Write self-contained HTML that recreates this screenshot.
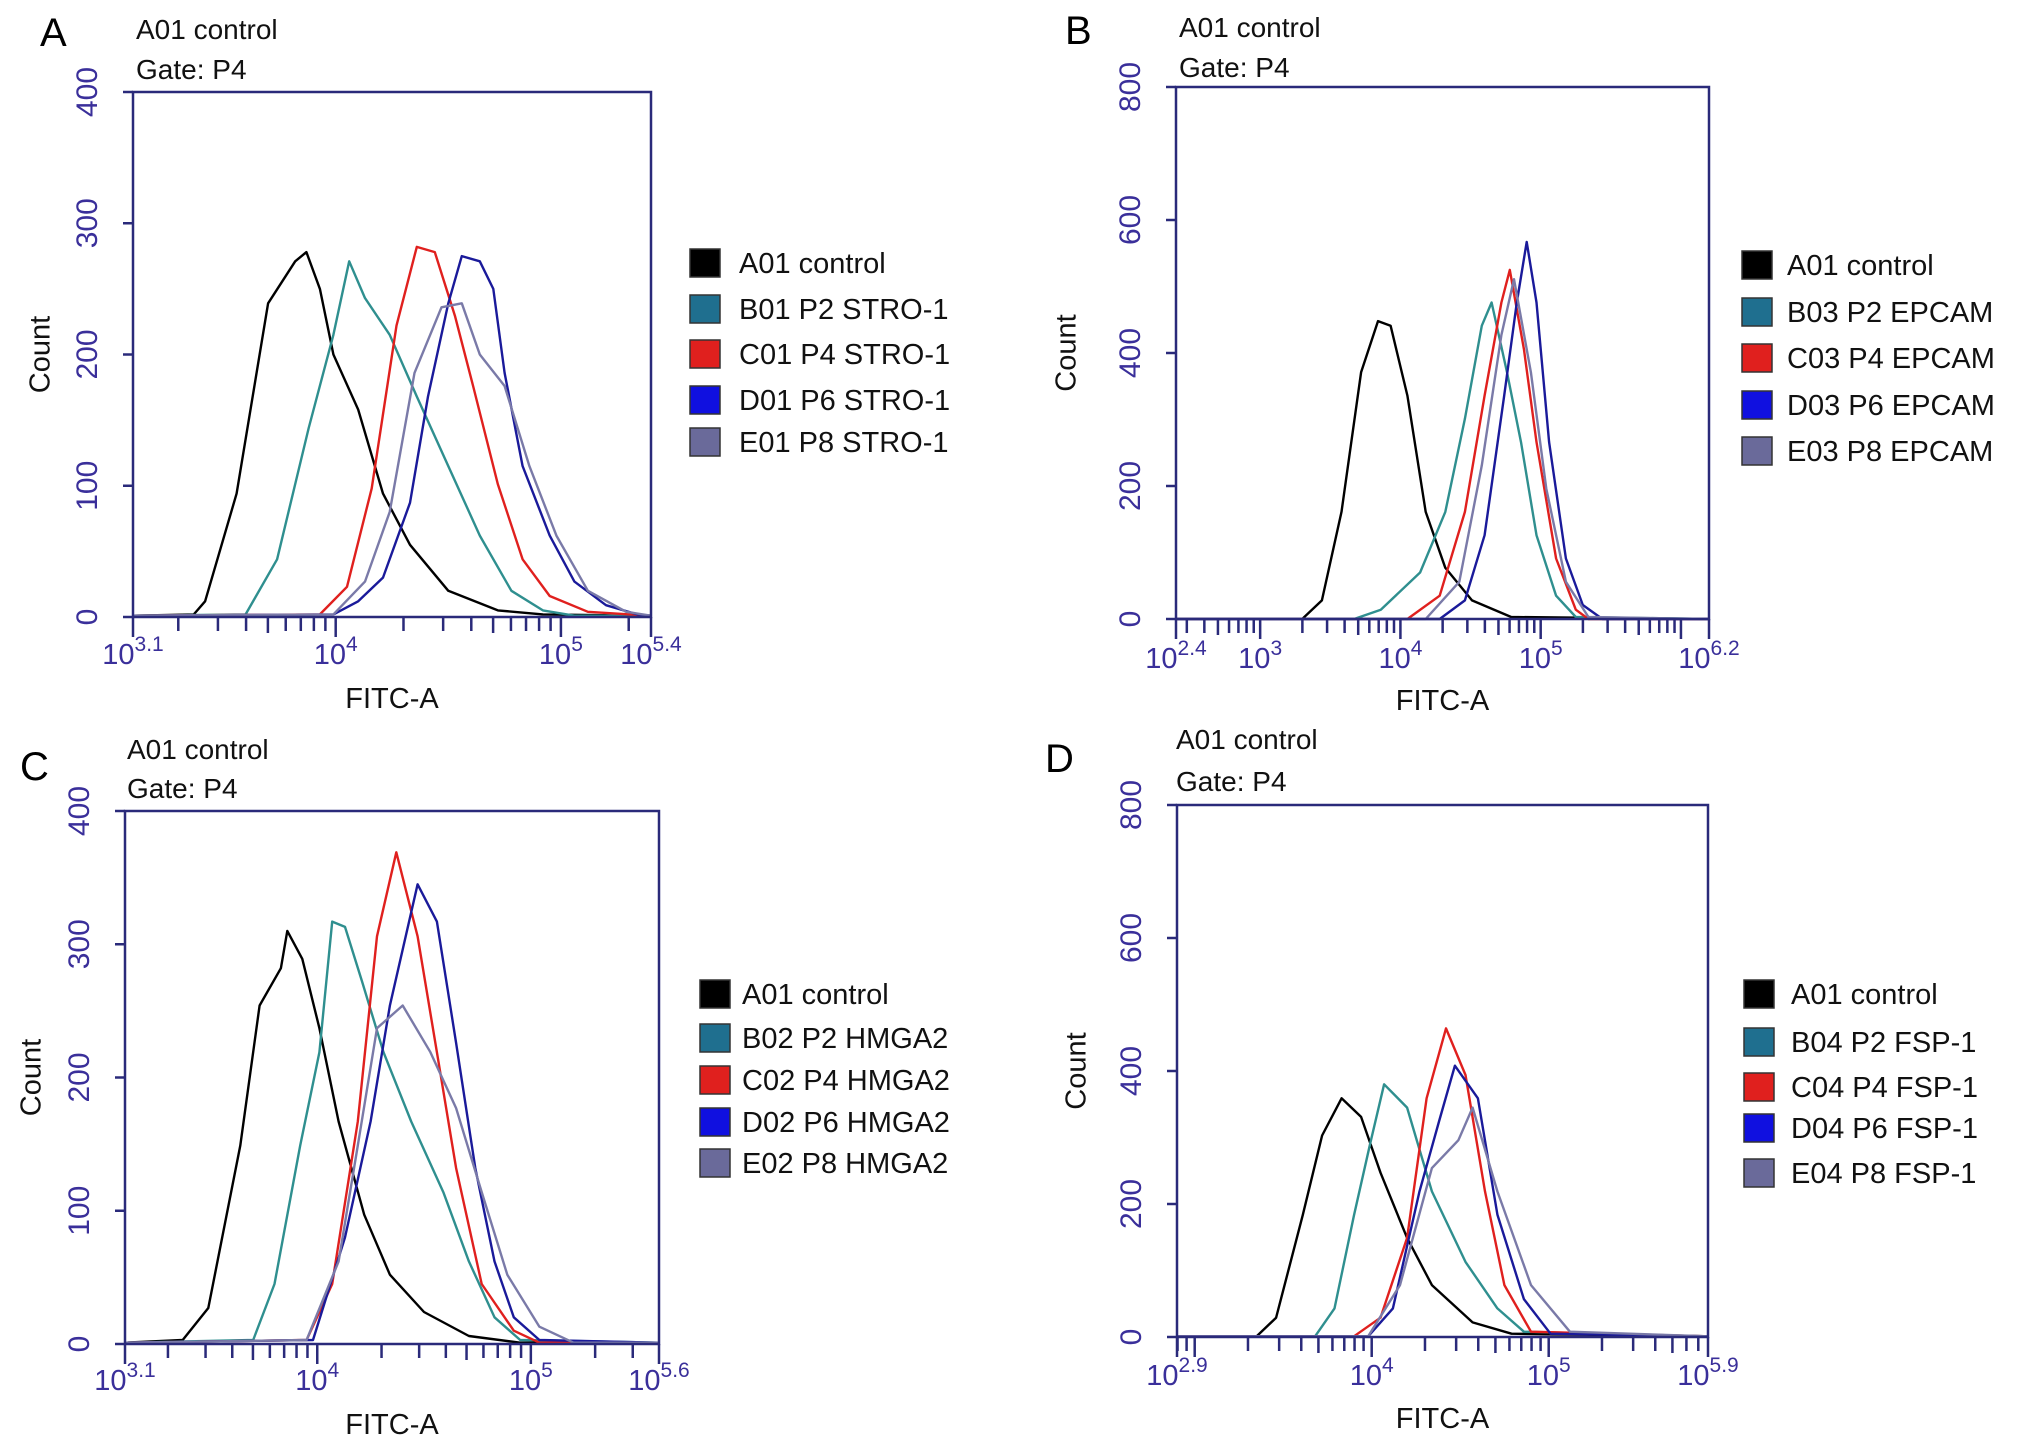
<!DOCTYPE html>
<html><head><meta charset="utf-8"><style>
html,body{margin:0;padding:0;background:#fff}
svg{display:block}
text{font-family:"Liberation Sans",sans-serif}
</style></head><body>
<svg id="fig" width="2032" height="1452" viewBox="0 0 2032 1452" xmlns="http://www.w3.org/2000/svg"></svg>
<script>
// ---- Data: [log10(FITC-A), count] pairs ----
const seriesNames = ["control","p2","p4","p6","p8"];
const aLabels = ["A01 control","B01 P2 STRO-1","C01 P4 STRO-1","D01 P6 STRO-1","E01 P8 STRO-1"];
const aControl = [[3.1,1],[3.37,2],[3.42,12],[3.56,94],[3.70,239],[3.82,271],[3.87,278],[3.93,250],[3.99,200],[4.10,158],[4.21,94],[4.33,55],[4.50,20],[4.72,5],[4.92,2],[5.4,1]];
const aP2 = [[3.1,1],[3.60,2],[3.74,44],[3.88,144],[3.99,215],[4.06,271],[4.13,243],[4.24,215],[4.36,168],[4.50,115],[4.64,62],[4.78,20],[4.92,5],[5.06,1],[5.4,1]];
const aP4 = [[3.1,1],[3.93,2],[4.05,23],[4.16,98],[4.27,222],[4.36,282],[4.44,278],[4.53,229],[4.61,176],[4.72,101],[4.83,44],[4.95,16],[5.12,4],[5.4,1]];
const aP6 = [[3.1,1],[3.99,2],[4.10,12],[4.21,30],[4.33,87],[4.41,168],[4.50,239],[4.56,275],[4.64,271],[4.70,250],[4.75,186],[4.83,115],[4.95,62],[5.06,27],[5.20,9],[5.34,2],[5.4,1]];
const aP8 = [[3.1,1],[3.99,2],[4.13,27],[4.24,80],[4.35,186],[4.47,236],[4.56,239],[4.64,200],[4.75,176],[4.86,115],[4.98,62],[5.12,20],[5.29,4],[5.4,1]];

const bLabels = ["A01 control","B03 P2 EPCAM","C03 P4 EPCAM","D03 P6 EPCAM","E03 P8 EPCAM"];
const bControl = [[2.4,0],[3.30,0],[3.44,28],[3.58,161],[3.72,371],[3.84,448],[3.93,441],[4.05,336],[4.18,161],[4.32,77],[4.51,28],[4.79,3],[6.2,0]];
const bP2 = [[2.4,0],[3.67,0],[3.86,14],[4.14,70],[4.32,161],[4.46,301],[4.58,441],[4.65,476],[4.76,371],[4.86,266],[4.97,126],[5.11,35],[5.25,3],[6.2,0]];
const bP4 = [[2.4,0],[4.05,0],[4.28,35],[4.46,161],[4.60,336],[4.72,476],[4.78,525],[4.88,406],[4.97,266],[5.11,91],[5.25,14],[5.34,0],[6.2,0]];
const bP6 = [[2.4,0],[4.28,0],[4.46,28],[4.60,126],[4.74,336],[4.83,476],[4.90,567],[4.97,476],[5.06,266],[5.18,91],[5.30,21],[5.44,0],[6.2,0]];
const bP8 = [[2.4,0],[4.18,0],[4.42,56],[4.58,231],[4.72,427],[4.81,511],[4.93,371],[5.04,196],[5.18,56],[5.34,3],[6.2,0]];

const cLabels = ["A01 control","B02 P2 HMGA2","C02 P4 HMGA2","D02 P6 HMGA2","E02 P8 HMGA2"];
const cControl = [[3.1,1],[3.37,3],[3.49,27],[3.64,149],[3.73,254],[3.83,282],[3.86,310],[3.93,289],[4.01,237],[4.10,167],[4.22,97],[4.34,52],[4.50,24],[4.71,6],[4.95,1],[5.6,1]];
const cP2 = [[3.1,1],[3.70,3],[3.80,45],[3.92,149],[4.01,219],[4.07,317],[4.13,313],[4.21,272],[4.31,219],[4.44,167],[4.59,114],[4.71,62],[4.83,20],[4.95,3],[5.6,1]];
const cP4 = [[3.1,1],[3.95,3],[4.07,45],[4.19,167],[4.28,306],[4.37,369],[4.47,306],[4.56,219],[4.65,132],[4.77,45],[4.92,10],[5.04,1],[5.6,1]];
const cP6 = [[3.1,1],[3.98,3],[4.13,80],[4.25,167],[4.34,254],[4.47,345],[4.56,317],[4.65,226],[4.74,132],[4.83,62],[4.92,20],[5.04,3],[5.6,1]];
const cP8 = [[3.1,1],[3.95,3],[4.10,62],[4.19,149],[4.28,237],[4.40,254],[4.53,219],[4.65,177],[4.77,114],[4.89,52],[5.04,13],[5.20,1],[5.6,1]];

const dLabels = ["A01 control","B04 P2 FSP-1","C04 P4 FSP-1","D04 P6 FSP-1","E04 P8 FSP-1"];
const dControl = [[2.9,1],[3.35,1],[3.46,29],[3.61,183],[3.72,303],[3.83,359],[3.94,331],[4.05,247],[4.20,149],[4.34,78],[4.57,22],[4.79,5],[5.9,1]];
const dP2 = [[2.9,1],[3.68,1],[3.79,43],[3.90,183],[3.99,289],[4.07,380],[4.20,345],[4.34,219],[4.53,113],[4.71,43],[4.86,8],[5.9,1]];
const dP4 = [[2.9,1],[3.90,1],[4.05,29],[4.20,149],[4.31,359],[4.42,464],[4.53,394],[4.64,219],[4.75,78],[4.90,8],[5.9,1]];
const dP6 = [[2.9,1],[3.98,1],[4.12,43],[4.27,219],[4.38,324],[4.47,408],[4.60,359],[4.71,184],[4.86,57],[5.01,5],[5.9,1]];
const dP8 = [[2.9,1],[3.98,1],[4.16,78],[4.34,254],[4.49,296],[4.57,345],[4.71,219],[4.90,78],[5.12,8],[5.9,1]];

const aYTicks=[0,100,200,300,400], bYTicks=[0,200,400,600,800];
const aXLabels=[[3.1,"3.1"],[4,"4"],[5,"5"],[5.4,"5.4"]];
const bXLabels=[[2.4,"2.4"],[3,"3"],[4,"4"],[5,"5"],[6.2,"6.2"]];
const cXLabels=[[3.1,"3.1"],[4,"4"],[5,"5"],[5.6,"5.6"]];
const dXLabels=[[2.9,"2.9"],[4,"4"],[5,"5"],[5.9,"5.9"]];

const lineColors=["#000000","#2f8f8f","#e0201e","#1a1a9a","#7a7aa8"];
const swatchColors=["#000000","#1f6f8f","#e0201e","#1010e0","#6a6a9a"];

const NS="http://www.w3.org/2000/svg";
const svg=document.getElementById("fig");
function mk(tag,attrs,parent){const e=document.createElementNS(NS,tag);for(const k in attrs)e.setAttribute(k,attrs[k]);(parent||svg).appendChild(e);return e;}

const panels=[
 {id:"a",letter:"A",box:[133,92,651,617],xr:[3.1,5.4],ymax:400,yt:aYTicks,xl:aXLabels,series:[aControl,aP2,aP4,aP6,aP8],labels:aLabels,
  letterPos:[40,46],hdr:[136,39,79],leg:[690,739,[263,309,354,400,442]],countX:42,xlabY:664,fitcY:708},
 {id:"b",letter:"B",box:[1176,87,1709,619],xr:[2.4,6.2],ymax:800,yt:bYTicks,xl:bXLabels,series:[bControl,bP2,bP4,bP6,bP8],labels:bLabels,
  letterPos:[1065,44],hdr:[1179,37,77],leg:[1742,1787,[265,312,358,405,451]],countX:1068,xlabY:668,fitcY:710},
 {id:"c",letter:"C",box:[125,811,659,1344],xr:[3.1,5.6],ymax:400,yt:aYTicks,xl:cXLabels,series:[cControl,cP2,cP4,cP6,cP8],labels:cLabels,
  letterPos:[20,780],hdr:[127,759,798],leg:[700,742,[994,1038,1080,1122,1163]],countX:33,xlabY:1390,fitcY:1434},
 {id:"d",letter:"D",box:[1177,805,1708,1337],xr:[2.9,5.9],ymax:800,yt:bYTicks,xl:dXLabels,series:[dControl,dP2,dP4,dP6,dP8],labels:dLabels,
  letterPos:[1045,772],hdr:[1176,749,791],leg:[1744,1791,[994,1042,1087,1128,1173]],countX:1078,xlabY:1385,fitcY:1428}
];

panels.forEach(p=>{
  const g=mk("g",{});
  
  
  const [x0,y0,x1,y1]=p.box;
  const X=v=>x0+(v-p.xr[0])/(p.xr[1]-p.xr[0])*(x1-x0);
  const Y=v=>y1-v/p.ymax*(y1-y0);
  let t=mk("text",{x:p.letterPos[0],y:p.letterPos[1],"font-size":40,fill:"#000"},g);t.textContent=p.letter;
  
  t=mk("text",{x:p.hdr[0],y:p.hdr[1],"font-size":28,fill:"#111"},g);t.textContent="A01 control";
  
  t=mk("text",{x:p.hdr[0],y:p.hdr[2],"font-size":28,fill:"#111"},g);t.textContent="Gate: P4";
  
  p.series.forEach((s,i)=>{
    const pts=s.map(d=>X(d[0]).toFixed(1)+","+Y(d[1]).toFixed(1)).join(" ");
    const pl=mk("polyline",{points:pts,fill:"none",stroke:lineColors[i],"stroke-width":2.4,"stroke-linejoin":"round"},g);
    
    
  });
  const r=mk("rect",{x:x0,y:y0,width:x1-x0,height:y1-y0,fill:"none",stroke:"#2a2a7a","stroke-width":2.5},g);
  
  p.yt.forEach(v=>{
    mk("line",{x1:x0-10,x2:x0,y1:Y(v),y2:Y(v),stroke:"#2a2a7a","stroke-width":2.5},g);
    const tt=mk("text",{x:x0-36,y:Y(v),"font-size":30,fill:"#3a2f9a","text-anchor":"middle",transform:`rotate(-90 ${x0-36} ${Y(v)})`},g);
    tt.textContent=v;
    
  });
  for(let dec=Math.floor(p.xr[0]);dec<=Math.ceil(p.xr[1]);dec++){
    for(let m=1;m<10;m++){
      const lv=dec+Math.log10(m);
      if(lv<p.xr[0]-1e-6||lv>p.xr[1]+1e-6)continue;
      const len=m===1?20:(m===5?16:14);
      mk("line",{x1:X(lv),x2:X(lv),y1:y1,y2:y1+len,stroke:"#2a2a7a","stroke-width":2.5},g);
    }
  }
  [p.xr[0],p.xr[1]].forEach(lv=>mk("line",{x1:X(lv),x2:X(lv),y1:y1,y2:y1+20,stroke:"#2a2a7a","stroke-width":2.5},g));
  p.xl.forEach(([lv,lab])=>{
    const tt=mk("text",{x:X(lv),y:p.xlabY,"font-size":29,fill:"#3a2f9a","text-anchor":"middle"},g);
    const a=mk("tspan",{},tt);a.textContent="10";
    const b=mk("tspan",{dy:-13,"font-size":21},tt);b.textContent=lab;
    
  });
  t=mk("text",{x:(x0+x1)/2,y:p.fitcY,"font-size":29,fill:"#111","text-anchor":"middle"},g);t.textContent="FITC-A";
  
  const cy=(y0+y1)/2;
  t=mk("text",{x:p.countX,y:cy,"font-size":29,fill:"#111","text-anchor":"middle","dominant-baseline":"middle",transform:`rotate(-90 ${p.countX} ${cy})`},g);t.textContent="Count";
  
  p.labels.forEach((lab,i)=>{
    const yc=p.leg[2][i];
    const sw=mk("rect",{x:p.leg[0],y:yc-14,width:30,height:28,fill:swatchColors[i],stroke:"#333","stroke-width":1.5},g);
    
    const lt=mk("text",{x:p.leg[1],y:yc+10,"font-size":29,fill:"#111"},g);lt.textContent=lab;
    
  });
});
</script>
</body></html>
